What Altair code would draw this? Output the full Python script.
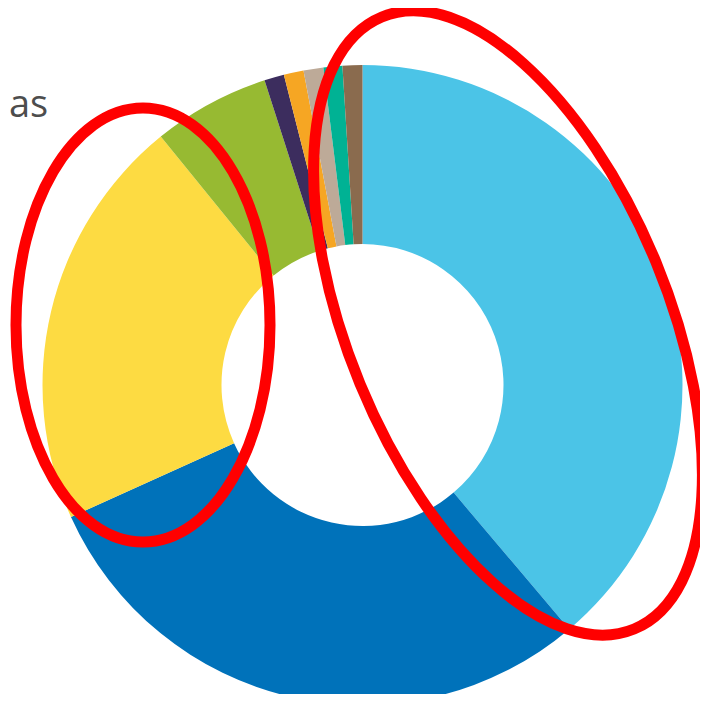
import altair as alt
import pandas as pd

# Slice data (clockwise from 12 o'clock)
categories = ["Categoria 1", "Categoria 2", "Categoria 3", "Categoria 4", "Categoria 5",
              "Categoria 6", "Categoria 7", "Categoria 8", "Categoria 9"]
values = [38.8, 29.4, 20.9, 5.9, 1.0, 1.0, 1.0, 0.95, 1.0]
colors = ["#4BC4E7", "#0072BA", "#FDDB42", "#97BA32", "#3C2D5E",
          "#F6A623", "#BDAA98", "#00B294", "#8A6B4E"]
order = list(range(len(categories)))

df = pd.DataFrame({"categoria": categories, "valor": values, "ordem": order})

W, H = 692, 686
CX, CY = 354.5, 377.0
R_OUT, R_IN = 320, 141

donut = alt.Chart(df).mark_arc(outerRadius=R_OUT, innerRadius=R_IN, stroke=None).encode(
    theta=alt.Theta("valor:Q", stack=True),
    order=alt.Order("ordem:Q", sort="ascending"),
    color=alt.Color("categoria:N", scale=alt.Scale(domain=categories, range=colors),
                    legend=None),
    x=alt.value(CX),
    y=alt.value(CY),
)

one = pd.DataFrame({"k": [0]})


def ellipse(cx, cy, a, b, angle):
    k = b / a
    path = f"M -1 0 A 1 {k:.4f} 0 1 1 1 0 A 1 {k:.4f} 0 1 1 -1 0 Z"
    return alt.Chart(one).mark_point(
        shape=path, filled=False, stroke="#FF0000", strokeWidth=11,
        size=(2 * a) ** 2, angle=angle, opacity=1,
    ).encode(x=alt.value(cx), y=alt.value(cy))


left_ell = ellipse(143 - 8, 325 - 8, 217, 127, 90)
right_ell = ellipse(508 - 8, 323 - 8, 331, 160, 67.6)

label = alt.Chart(one).mark_text(
    text="as", align="left", baseline="alphabetic", fontSize=38,
    font="Open Sans", color="#4D4D4D",
).encode(x=alt.value(1), y=alt.value(117 - 8))

chart = alt.layer(donut, left_ell, right_ell, label).properties(
    width=W, height=H, autosize=alt.AutoSizeParams(type="none"), padding=0,
    background="white",
).configure_view(strokeWidth=0, stroke=None)

chart.save("out.html", embed_options={"renderer": "svg", "actions": False})
